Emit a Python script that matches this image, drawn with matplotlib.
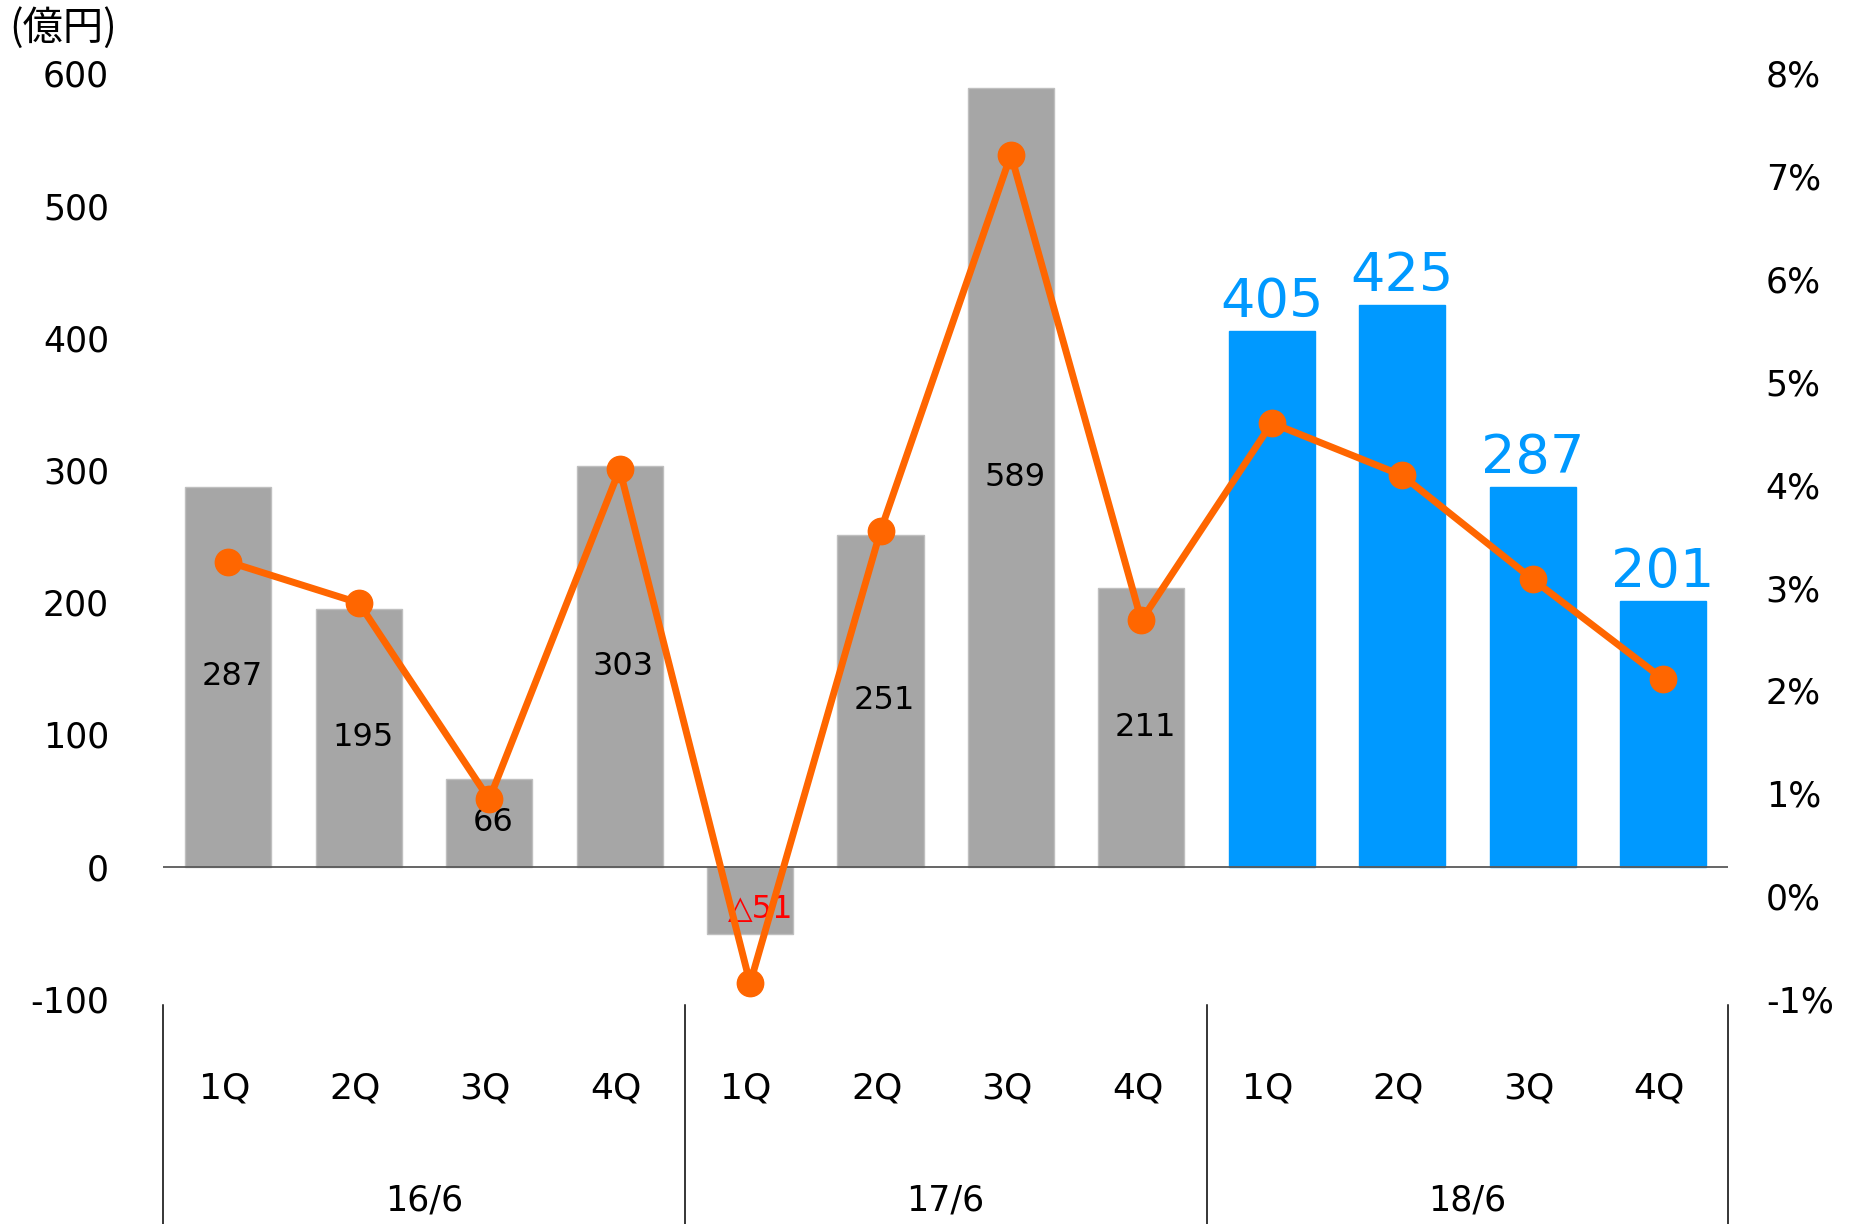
import matplotlib
matplotlib.use('Agg')
import matplotlib.pyplot as plt
import matplotlib.transforms as mtransforms
from matplotlib.lines import Line2D

plt.rcParams['font.family'] = ['DejaVu Sans', 'Noto Sans CJK JP']
plt.rcParams['axes.unicode_minus'] = False

# データ
quarters = ['1Q', '2Q', '3Q', '4Q'] * 3
years = ['16/6', '17/6', '18/6']
profit = [287, 195, 66, 303, -51, 251, 589, 211, 405, 425, 287, 201]
margin = [3.25, 2.85, 0.94, 4.15, -0.85, 3.55, 7.21, 2.68, 4.60, 4.09, 3.08, 2.11]
left_ticks = [-100, 0, 100, 200, 300, 400, 500, 600]
right_ticks = [-1, 0, 1, 2, 3, 4, 5, 6, 7, 8]

gray = '#A6A6A6'
blue = '#0099FF'
orange = '#FF6600'

fig = plt.figure(figsize=(18.5, 12.24), dpi=100)
ax = fig.add_axes([0.0882, 0.184, 0.846, 0.756])
x = list(range(len(profit)))
colors = [gray] * 8 + [blue] * 4
edges = ['#BFBFBF'] * 8 + [blue] * 4
ax.bar(x, profit, width=0.66, color=colors, edgecolor=edges, linewidth=1, zorder=2)
ax.axhline(0, color='#595959', lw=1.3, zorder=3)
ax.set_xlim(-0.5, 11.5)
ax.set_ylim(-100, 600)
ax.set_yticks(left_ticks)
ax.set_yticklabels([str(t) for t in left_ticks])
ax.set_xticks([])
ax.tick_params(axis='y', length=0, pad=39, labelsize=25)
for s in ax.spines.values():
    s.set_visible(False)

# 棒ラベル
for i, v in enumerate(profit):
    if i >= 8:
        ax.annotate(str(v), (i, v), xytext=(0, 10), textcoords='offset points',
                    ha='center', va='baseline', fontsize=39, color=blue)
    elif v < 0:
        ax.text(i + 0.08, v / 2 - 7, '△' + str(abs(v)), ha='center', va='center',
                fontsize=23, color='#FF0000', zorder=6)
    else:
        ax.text(i + 0.03, v / 2, str(v), ha='center', va='center', fontsize=23,
                color='black', zorder=6)

# 折れ線(右軸)
ax2 = ax.twinx()
ax2.plot(x, margin, color=orange, lw=5, marker='o', markersize=19, zorder=5)
ax2.set_ylim(-1, 8)
ax2.set_yticks(right_ticks)
ax2.set_yticklabels([f'{t}%' for t in right_ticks])
ax2.tick_params(axis='y', length=0, pad=27, labelsize=25)
for s in ax2.spines.values():
    s.set_visible(False)

# 下部のカテゴリ
trans = mtransforms.blended_transform_factory(ax.transData, fig.transFigure)
for i, q in enumerate(quarters):
    ax.text(i - 0.03, 0.111, q, transform=trans, ha='center', va='center', fontsize=26)
for k, yr in enumerate(years):
    ax.text(4 * k + 1.5, 0.0196, yr, transform=trans, ha='center', va='center', fontsize=25)
for xs in [-0.5, 3.5, 7.5, 11.5]:
    ax.add_line(Line2D([xs, xs], [0.179, 0.0], transform=trans, color='black',
                       lw=1.1, clip_on=False))

fig.text(0.005, 0.977, '(億円)', ha='left', va='center', fontsize=29,
         family=['Noto Sans CJK JP', 'DejaVu Sans'])

fig.savefig('out.png', dpi=100)
